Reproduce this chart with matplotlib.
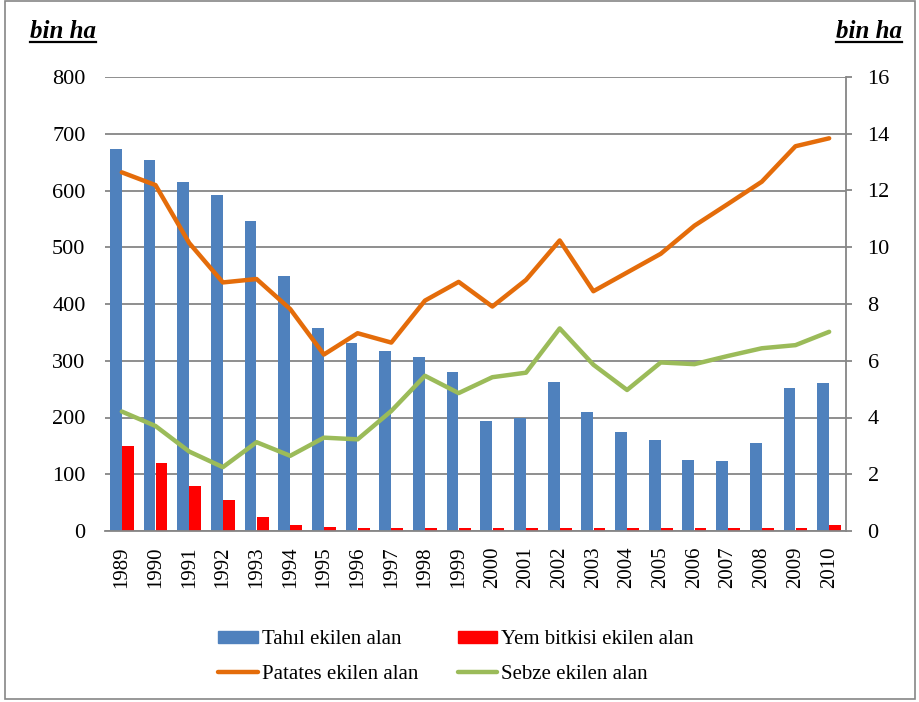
import numpy as np
import matplotlib
matplotlib.use('Agg')
import matplotlib.pyplot as plt
from matplotlib.patches import Rectangle
from matplotlib.lines import Line2D

plt.rcParams['font.family'] = ['Liberation Serif', 'DejaVu Serif']

# veriler (bin ha)
yillar = ['1989', '1990', '1991', '1992', '1993', '1994', '1995', '1996', '1997', '1998', '1999',
          '2000', '2001', '2002', '2003', '2004', '2005', '2006', '2007', '2008', '2009', '2010']
tahil = [673, 653, 615, 592, 547, 450, 357, 332, 318, 306, 280,
         194, 200, 263, 209, 174, 160, 125, 123, 155, 252, 260]
yem = [149, 120, 79, 54, 25, 10, 7, 5, 5, 5, 5,
       5, 5, 5, 5, 5, 5, 5, 5, 5, 5, 10]
# sag eksen
patates = [12.64, 12.19, 10.15, 8.76, 8.88, 7.82, 6.22, 6.97, 6.64, 8.12, 8.78,
           7.91, 8.85, 10.24, 8.45, 9.11, 9.77, 10.76, 11.53, 12.31, 13.56, 13.84]
sebze = [4.21, 3.70, 2.80, 2.25, 3.13, 2.65, 3.29, 3.23, 4.23, 5.47, 4.86,
         5.42, 5.58, 7.14, 5.86, 4.97, 5.94, 5.88, 6.17, 6.44, 6.55, 7.02]

etiketler = ['Tahıl ekilen alan', 'Yem bitkisi ekilen alan',
             'Patates ekilen alan', 'Sebze ekilen alan']

mavi = '#4F81BD'
kirmizi = '#FF0000'
turuncu = '#E46C0A'
yesil = '#9BBB59'
gri = '#868686'

fig = plt.figure(figsize=(9.2, 7.02), dpi=100)
ax = fig.add_axes([105 / 920, 1 - 531 / 702, 741 / 920, 454 / 702])
x = np.arange(len(yillar))

w = 0.35
ax.bar(x - 0.18, tahil, w, color=mavi, zorder=2)
ax.bar(x + 0.18, yem, w, color=kirmizi, zorder=2)
ax.set_xlim(-0.5, len(yillar) - 0.5)
ax.set_ylim(0, 800)
ax.set_yticks(np.arange(0, 801, 100))
ax.yaxis.grid(True, color=gri, lw=1.3)
ax.set_axisbelow(True)
ax.set_xticks(x)
ax.set_xticklabels(yillar, rotation=90, fontsize=15)
ax.tick_params(axis='x', length=0, pad=11)
ax.tick_params(axis='y', length=0, pad=14, labelsize=16)
for s in ['left', 'top', 'right']:
    ax.spines[s].set_visible(False)
ax.spines['bottom'].set_color(gri)
ax.spines['bottom'].set_linewidth(1.3)

ax2 = ax.twinx()
ax2.plot(x, patates, color=turuncu, lw=3.2, solid_capstyle='round', solid_joinstyle='round')
ax2.plot(x, sebze, color=yesil, lw=3.2, solid_capstyle='round', solid_joinstyle='round')
ax2.set_ylim(0, 16)
ax2.set_yticks(np.arange(0, 17, 2))
ax2.tick_params(axis='y', length=4.5, width=1.3, color=gri, pad=11, labelsize=16)
for s in ['left', 'top', 'bottom']:
    ax2.spines[s].set_visible(False)
ax2.spines['right'].set_color(gri)
ax2.spines['right'].set_linewidth(1.3)

# eksen basliklari (alti cizili)
basliklar = []
for xp, ha in [(30, 'left'), (902, 'right')]:
    t = fig.text(xp / 920, 1 - 38 / 702, 'bin ha', fontsize=18, fontweight='bold',
                 fontstyle='italic', ha=ha, va='baseline')
    basliklar.append(t)
fig.canvas.draw()
r = fig.canvas.get_renderer()
for t in basliklar:
    bb = t.get_window_extent(r)
    fig.add_artist(Line2D([bb.x0 / 920, bb.x1 / 920], [1 - 42 / 702, 1 - 42 / 702],
                          color='black', lw=1.6))

# lejant
h = [Rectangle((0, 0), 1, 1, color=mavi),
     Line2D([], [], color=turuncu, lw=3.2, solid_capstyle='round'),
     Rectangle((0, 0), 1, 1, color=kirmizi),
     Line2D([], [], color=yesil, lw=3.2, solid_capstyle='round')]
l = [etiketler[0], etiketler[2], etiketler[1], etiketler[3]]
fig.legend(h, l, ncol=2, frameon=False, fontsize=15, loc='center',
           bbox_to_anchor=(456 / 920, 1 - 657 / 702), handlelength=1.9, handleheight=0.5,
           handletextpad=0.2, columnspacing=1.9, labelspacing=0.75)

# dis cerceve
fig.add_artist(Rectangle((5 / 920, 1 - 699 / 702), 910 / 920, 698 / 702, fill=False,
                         edgecolor=gri, lw=1.2, transform=fig.transFigure))

fig.savefig('out.png', dpi=100)
